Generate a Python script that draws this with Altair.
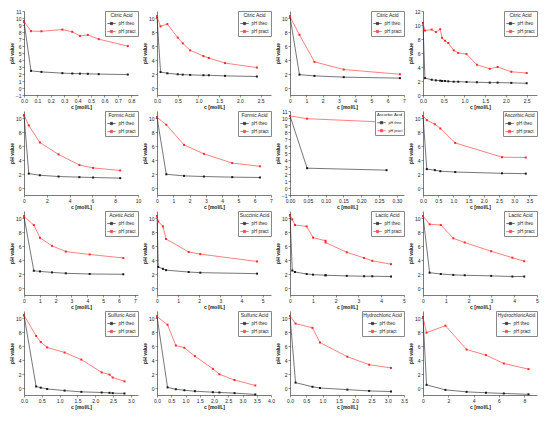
import altair as alt
import pandas as pd

SERIES = ["pH theo", "pH pract"]

TITLES = ["Citric Acid", "Citric Acid", "Citric Acid", "Citric Acid",
          "Formic Acid", "Formic Acid", "Ascorbic Acid", "Ascorbic Acid",
          "Acetic Acid", "Succinic Acid", "Lactic Acid", "Lactic Acid",
          "Sulfuric Acid", "Sulfuric Acid", "Hydrochloric Acid", "HydrochloricAcid"]

# concentrations c [mol/L]
C = [
    [0, 0.052, 0.13, 0.286, 0.36, 0.417, 0.476, 0.557, 0.774],
    [0, 0.085, 0.25, 0.5, 0.62, 0.8, 1.12, 1.25, 1.64, 2.41],
    [0, 0.58, 1.5, 3.3, 6.75],
    [0, 0.046, 0.21, 0.31, 0.415, 0.46, 0.53, 0.61, 0.74, 0.85, 1.05, 1.3, 1.61, 1.8, 2.13, 2.5],
    [0, 0.42, 1.39, 3.03, 4.86, 6.06, 8.44],
    [0, 0.57, 1.66, 2.88, 4.62, 6.32],
    [0, 0.048, 0.271],
    [0, 0.125, 0.39, 0.57, 1.06, 2.6, 3.38],
    [0, 0.62, 1.01, 1.77, 2.64, 4.15, 6.27],
    [0, 0.06, 0.28, 0.43, 1.5, 2.05, 4.74],
    [0, 0.1, 0.22, 0.73, 1.01, 1.56, 1.56, 2.49, 3.25, 3.61, 4.43],
    [0, 0.29, 0.78, 1.33, 1.83, 2.99, 3.92, 4.44],
    [0, 0.34, 0.47, 0.65, 1.14, 1.61, 2.18, 2.4, 2.49, 2.82],
    [0, 0.37, 0.66, 0.96, 1.33, 1.96, 2.19, 2.72, 3.45],
    [0, 0.17, 0.69, 0.92, 1.76, 2.43, 3.1],
    [0, 0.28, 1.77, 3.44, 4.97, 6.38, 8.33],
]

# theoretical pH
THEO = [
    [9.5, 2.45, 2.3, 2.12, 2.07, 2.05, 2.03, 1.98, 1.92],
    [10.2, 2.28, 2.1, 1.96, 1.91, 1.87, 1.82, 1.82, 1.73, 1.64],
    [10.2, 1.91, 1.73, 1.55, 1.41],
    [10.3, 2.41, 2.18, 2.09, 2.05, 2.0, 2.0, 1.95, 1.9, 1.9, 1.86, 1.82, 1.77, 1.77, 1.73, 1.68],
    [10.4, 2.05, 1.82, 1.64, 1.55, 1.5, 1.41],
    [10.1, 1.96, 1.73, 1.64, 1.55, 1.5],
    [10.3, 2.83, 2.55],
    [10.3, 2.7, 2.55, 2.4, 2.28, 2.1, 2.05],
    [10.2, 2.46, 2.37, 2.23, 2.1, 2.0, 1.96],
    [10.3, 3.0, 2.74, 2.55, 2.28, 2.19, 2.05],
    [10.4, 2.5, 2.28, 2.0, 1.91, 1.82, 1.82, 1.73, 1.68, 1.68, 1.64],
    [10.3, 2.19, 2.0, 1.87, 1.82, 1.73, 1.64, 1.64],
    [10.4, 0.22, 0.05, -0.14, -0.37, -0.55, -0.64, -0.69, -0.73, -0.78],
    [10.2, 0.09, -0.18, -0.32, -0.46, -0.6, -0.64, -0.73, -0.92],
    [10.3, 0.77, 0.17, 0.0, -0.23, -0.42, -0.5],
    [10.1, 0.45, -0.27, -0.55, -0.68, -0.78, -0.9],
]

# practical (measured) pH
PRACT = [
    [9.5, 8.12, 8.1, 8.35, 8.03, 7.44, 7.58, 6.98, 5.98],
    [10.2, 8.8, 9.13, 7.2, 6.39, 5.38, 4.56, 4.29, 3.56, 2.92],
    [10.2, 7.6, 3.74, 2.64, 1.96],
    [10.26, 9.21, 9.35, 8.99, 9.4, 8.16, 7.75, 7.43, 6.38, 6.02, 5.84, 4.33, 3.74, 4.0, 3.32, 3.14],
    [10.4, 8.95, 6.5, 4.8, 3.28, 2.87, 2.5],
    [10.1, 9.04, 6.16, 4.88, 3.56, 3.1],
    [10.3, 9.9, 9.4],
    [10.3, 9.7, 9.1, 8.5, 6.44, 4.4, 4.36],
    [10.2, 9.0, 7.17, 6.02, 5.2, 4.79, 4.29],
    [10.3, 9.5, 8.8, 7.0, 5.15, 4.84, 3.79],
    [10.4, 9.8, 9.0, 8.8, 7.2, 6.75, 6.5, 5.1, 4.3, 3.88, 3.4],
    [10.3, 9.1, 9.0, 7.1, 6.5, 5.25, 4.33, 3.83],
    [10.4, 7.44, 6.57, 5.8, 5.07, 4.06, 2.23, 1.91, 1.5, 0.95],
    [10.2, 9.04, 6.07, 5.75, 4.56, 2.74, 1.96, 1.14, 0.36],
    [10.3, 9.2, 8.6, 6.5, 4.47, 3.33, 2.87],
    [10.1, 7.9, 8.9, 5.5, 4.7, 3.5, 2.7],
]

# x-axis tick labels per panel
X_TICKS = [
    [0, 0.1, 0.2, 0.3, 0.4, 0.5, 0.6, 0.7, 0.8],
    [0, 0.5, 1.0, 1.5, 2.0, 2.5],
    [0, 1, 2, 3, 4, 5, 6, 7],
    [0, 0.5, 1.0, 1.5, 2.0, 2.5],
    [0, 2, 4, 6, 8, 10],
    [0, 1, 2, 3, 4, 5, 6, 7],
    [0, 0.05, 0.10, 0.15, 0.20, 0.25, 0.30],
    [0, 0.5, 1.0, 1.5, 2.0, 2.5, 3.0, 3.5],
    [0, 1, 2, 3, 4, 5, 6, 7],
    [0, 1, 2, 3, 4, 5],
    [0, 1, 2, 3, 4, 5],
    [0, 1, 2, 3, 4, 5],
    [0, 0.5, 1.0, 1.5, 2.0, 2.5, 3.0],
    [0, 0.5, 1.0, 1.5, 2.0, 2.5, 3.0, 3.5, 4.0],
    [0, 0.5, 1.0, 1.5, 2.0, 2.5, 3.0, 3.5],
    [0, 2, 4, 6, 8],
]
X_MAX = [0.85, 2.75, 7, 2.75, 10, 7, 0.32, 3.75, 7.2, 5.4, 5, 5, 3.2, 4, 3.5, 9]
X_FMT = [".1f", ".1f", "d", ".1f", "d", "d", ".2f", ".1f",
         "d", "d", "d", "d", ".1f", ".1f", ".1f", "d"]

Y_TICKS_FINE = [-1, 0, 1, 2, 3, 4, 5, 6, 7, 8, 9, 10, 11]
Y_TICKS_STD = [0, 2, 4, 6, 8, 10]
Y_TICKS_P4 = [0, 2, 4, 6, 8, 10, 12]

W, H = 114, 84
FONT = "Liberation Sans"
SYMBOL = "M-1,0H1M-0.28,-0.28H0.28V0.28H-0.28Z"


def panel(k):
    rows = []
    for i, (c, t, p) in enumerate(zip(C[k], THEO[k], PRACT[k])):
        rows.append({"c": c, "pH": t, "series": SERIES[0], "i": i})
        rows.append({"c": c, "pH": p, "series": SERIES[1], "i": i})
    df = pd.DataFrame(rows)

    if k in (0, 6):
        ydom, yticks = [-1, 11], Y_TICKS_FINE
    elif k == 3:
        ydom, yticks = [0, 12], Y_TICKS_P4
    else:
        ydom, yticks = [-1, 11], Y_TICKS_STD

    fs = 4.2 if k == 6 else 5
    leg = alt.Legend(
        title=TITLES[k], orient="top-right", offset=0, padding=1.5,
        titleFontSize=fs, titleFontWeight="normal", titleAnchor="middle",
        titleFont=FONT, titlePadding=1, titleColor="#222",
        labelFontSize=fs - 0.5, labelFont=FONT, labelOffset=2, labelColor="#222",
        rowPadding=0, symbolType=SYMBOL, symbolSize=70, symbolStrokeWidth=0.7,
        strokeColor="#888", fillColor="white", cornerRadius=0,
    )
    color = alt.Color("series:N", scale=alt.Scale(domain=SERIES, range=["#1a1a1a", "#ff2a2a"]),
                      legend=leg)

    x = alt.X("c:Q", scale=alt.Scale(domain=[0, X_MAX[k]], nice=False, zero=False),
              axis=alt.Axis(values=X_TICKS[k], format=X_FMT[k], title="c [mol/L]"))
    y = alt.Y("pH:Q", scale=alt.Scale(domain=ydom, nice=False, zero=False),
              axis=alt.Axis(values=yticks, format="d", title="pH value"))

    base = alt.Chart(df).encode(x=x, y=y, color=color)
    line = base.mark_line(strokeWidth=0.7, opacity=0.85).encode(order="i:Q")
    pts = base.mark_square(size=4, opacity=1)
    return alt.layer(line, pts).properties(width=W, height=H)


chart = alt.concat(*[panel(k) for k in range(16)], columns=4,
                   spacing={"row": 16, "column": 19}, bounds="flush")
chart = chart.resolve_scale(color="independent", x="independent", y="independent")
chart = chart.resolve_legend(color="independent")
chart = chart.properties(padding=1, background="white").configure_view(stroke=None).configure_axis(
    labelFont=FONT, titleFont=FONT, labelFontSize=5, titleFontSize=5, titleFontWeight="bold",
    tickSize=2, tickWidth=0.5, domainWidth=0.6, domainColor="#222", tickColor="#222",
    labelColor="#222", titleColor="#111", labelPadding=1, titlePadding=1, grid=False,
    labelOverlap=False, labelFlush=False,
)

chart.save("out.html", embed_options={"renderer": "svg", "actions": False})
